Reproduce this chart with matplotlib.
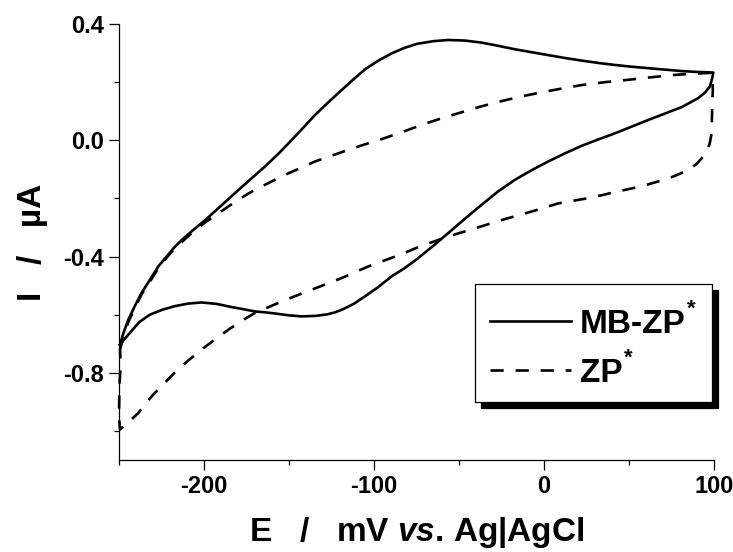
import matplotlib
matplotlib.use('Agg')
import matplotlib.pyplot as plt
from matplotlib.patches import Rectangle
from matplotlib.ticker import MultipleLocator, FormatStrFormatter

plt.rcParams['font.family'] = ['Liberation Sans', 'DejaVu Sans']
plt.rcParams['font.weight'] = 'bold'
plt.rcParams['axes.unicode_minus'] = False
plt.rcParams['mathtext.fontset'] = 'custom'
plt.rcParams['mathtext.it'] = 'Liberation Sans:italic:bold'
plt.rcParams['mathtext.rm'] = 'Liberation Sans:bold'
plt.rcParams['mathtext.bf'] = 'Liberation Sans:bold'

# MB-ZP* : forward scan (-250 -> 100 mV)
E_mb_fwd = [-249.4, -247.5, -244.5, -240.5, -236.7, -231.5, -226.9, -222.0, -217.4,
            -212.5, -208.0, -203.5, -199.4, -190.5, -181.8, -173.0, -164.1, -156.0,
            -148.4, -141.5, -134.7, -127.0, -119.0, -112.0, -105.3, -97.5, -89.6,
            -82.0, -74.5, -65.0, -56.3, -46.5, -36.7, -27.0, -17.1, -7.3, 2.5, 12.3,
            22.2, 32.0, 41.8, 51.6, 61.4, 71.2, 81.0, 90.3, 99.6]
I_mb_fwd = [-0.703, -0.665, -0.617, -0.568, -0.525, -0.477, -0.434, -0.400, -0.368,
            -0.340, -0.317, -0.295, -0.275, -0.228, -0.182, -0.136, -0.090, -0.045,
            0.001, 0.044, 0.087, 0.130, 0.173, 0.210, 0.244, 0.274, 0.299,
            0.318, 0.332, 0.341, 0.345, 0.343, 0.336, 0.325, 0.313, 0.303, 0.293, 0.283,
            0.274, 0.266, 0.259, 0.253, 0.248, 0.243, 0.238, 0.235, 0.233]
# MB-ZP* : reverse scan (100 -> -250 mV)
E_mb_rev = [99.6, 99.0, 97.6, 94.5, 90.7, 86.0, 81.0, 71.2, 61.4, 51.6, 41.8, 32.0,
            22.2, 12.3, 2.5, -7.3, -17.1, -27.0, -36.7, -46.5, -56.3, -65.5, -75.0,
            -82.5, -89.6, -97.5, -105.3, -112.0, -118.5, -122.9, -127.5, -134.0,
            -142.5, -150.5, -158.2, -164.0, -169.9, -177.0, -183.7, -192.5, -201.4,
            -209.5, -217.4, -224.5, -231.8, -238.0, -243.5, -246.5, -249.4]
I_mb_rev = [0.233, 0.215, 0.185, 0.163, 0.145, 0.130, 0.114, 0.092, 0.070, 0.047,
            0.024, 0.003, -0.019, -0.045, -0.073, -0.103, -0.136, -0.176, -0.222,
            -0.270, -0.319, -0.365, -0.410, -0.442, -0.468, -0.505, -0.537, -0.563,
            -0.582, -0.592, -0.599, -0.604, -0.606, -0.602, -0.596, -0.592, -0.589,
            -0.581, -0.574, -0.563, -0.558, -0.562, -0.571, -0.583, -0.600, -0.625,
            -0.662, -0.682, -0.703]

# ZP* : forward scan
E_zp_fwd = [-249.4, -247.0, -244.5, -240.5, -236.7, -231.5, -226.9, -222.0, -217.4,
            -212.5, -208.5, -204.0, -199.4, -192.5, -185.7, -178.0, -170.0, -161.0,
            -152.4, -143.5, -134.7, -125.0, -115.1, -105.3, -95.5, -87.6, -79.8, -70.0,
            -60.0, -50.4, -38.5, -26.9, -14.0, -1.4, 10.4, 22.2, 36.0, 49.6, 63.4,
            77.1, 88.0, 98.6]
I_zp_fwd = [-0.720, -0.670, -0.625, -0.575, -0.530, -0.483, -0.440, -0.404, -0.373,
            -0.347, -0.326, -0.304, -0.283, -0.255, -0.228, -0.198, -0.170, -0.144,
            -0.119, -0.096, -0.073, -0.053, -0.033, -0.014, 0.004, 0.020, 0.036, 0.057,
            0.076, 0.093, 0.114, 0.132, 0.150, 0.165, 0.178, 0.190, 0.200, 0.208,
            0.217, 0.225, 0.229, 0.232]
# ZP* : reverse scan
E_zp_rev = [98.6, 99.2, 99.3, 99.0, 98.8, 98.6, 97.5, 96.0, 93.7, 90.0, 86.0, 80.0,
            75.1, 67.0, 59.4, 50.6, 41.8, 34.0, 26.1, 17.3, 8.5, 0.6, -7.2, -15.0,
            -22.9, -31.8, -40.6, -48.5, -56.3, -64.6, -72.9, -80.2, -87.6, -95.5,
            -103.3, -111.2, -119.0, -127.8, -136.6, -145.4, -154.1, -162.0, -170.0,
            -177.8, -185.7, -193.5, -201.4, -209.5, -217.4, -224.0, -230.8, -235.0,
            -238.6, -244.0, -249.4, -250.0, -249.8, -249.0, -249.4]
I_zp_rev = [0.232, 0.200, 0.170, 0.139, 0.080, 0.024, -0.010, -0.035, -0.056, -0.080,
            -0.098, -0.115, -0.127, -0.142, -0.155, -0.167, -0.178, -0.189, -0.199,
            -0.208, -0.217, -0.231, -0.245, -0.258, -0.271, -0.287, -0.303, -0.317,
            -0.331, -0.348, -0.365, -0.383, -0.400, -0.417, -0.434, -0.454, -0.474,
            -0.494, -0.514, -0.534, -0.554, -0.574, -0.594, -0.621, -0.652, -0.685,
            -0.720, -0.759, -0.800, -0.840, -0.881, -0.912, -0.938, -0.968, -0.995,
            -0.950, -0.850, -0.770, -0.720]

xticks_major = [-200, -100, 0, 100]
yticks_major = [-0.8, -0.4, 0.0, 0.4]

E_mb = E_mb_fwd + E_mb_rev[1:]
I_mb = I_mb_fwd + I_mb_rev[1:]
E_zp = E_zp_fwd + E_zp_rev[1:]
I_zp = I_zp_fwd + I_zp_rev[1:]

fig = plt.figure(figsize=(7.33, 5.52), dpi=100, facecolor='white')
ax = fig.add_axes([119 / 733, 92 / 552, 595 / 733, 436 / 552])

ax.plot(E_mb, I_mb, color='black', lw=1.9, solid_joinstyle='round', clip_on=False)
ax.plot(E_zp, I_zp, color='black', lw=1.9, dashes=(5, 4.5), clip_on=False)

ax.set_xlim(-250, 100)
ax.set_ylim(-1.1, 0.4)
ax.set_xticks(xticks_major)
ax.set_yticks(yticks_major)
ax.xaxis.set_minor_locator(MultipleLocator(50))
ax.yaxis.set_minor_locator(MultipleLocator(0.2))
ax.yaxis.set_major_formatter(FormatStrFormatter('%.1f'))
ax.tick_params(which='major', direction='out', length=7, width=0.9, labelsize=17, pad=4)
ax.tick_params(which='minor', direction='out', length=3.5, width=0.9)

for side in ['top', 'right']:
    ax.spines[side].set_visible(False)
for side in ['left', 'bottom']:
    ax.spines[side].set_linewidth(0.9)

ax.set_xlabel('E   /   mV $\\it{vs}$. Ag|AgCl', fontsize=24, fontweight='bold')
ax.set_ylabel('I   /   \u00b5A', fontsize=24, fontweight='bold')
ax.xaxis.set_label_coords(0.5, -0.166)
ax.xaxis.label.set_va('center')
ax.yaxis.set_label_coords(-0.1455, 0.5)
ax.yaxis.label.set_va('center')

# legend box with solid black shadow
bx, by, bw, bh = 0.598, 0.133, 0.3986, 0.2707
ax.add_patch(Rectangle((bx + 0.0101, by - 0.0138), bw, bh, transform=ax.transAxes,
                       facecolor='black', edgecolor='black', lw=0.9, clip_on=False, zorder=5))
ax.add_patch(Rectangle((bx, by), bw, bh, transform=ax.transAxes,
                       facecolor='white', edgecolor='black', lw=0.9, clip_on=False, zorder=6))
ax.plot([0.6235, 0.7597], [0.3188, 0.3188], transform=ax.transAxes, color='black',
        lw=1.9, clip_on=False, zorder=7)
ax.plot([0.6235, 0.7597], [0.2064, 0.2064], transform=ax.transAxes, color='black',
        lw=1.9, dashes=(5, 4.5), clip_on=False, zorder=7)
t1 = ax.text(0.7748, 0.2913, 'MB-ZP', transform=ax.transAxes, fontsize=24,
             fontweight='bold', va='baseline', ha='left', zorder=7)
t2 = ax.text(0.7748, 0.1789, 'ZP', transform=ax.transAxes, fontsize=24,
             fontweight='bold', va='baseline', ha='left', zorder=7)
for t in (t1, t2):
    ax.annotate('*', xy=(1.0, 1.0), xycoords=t, xytext=(1, -4), textcoords='offset points',
                fontsize=16, fontweight='bold', va='baseline', ha='left', zorder=7)

fig.savefig('out.png', dpi=100, facecolor='white')
